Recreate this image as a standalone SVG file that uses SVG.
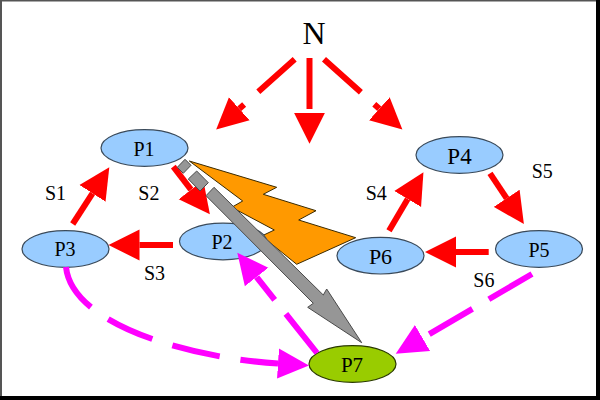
<svg xmlns="http://www.w3.org/2000/svg" width="600" height="400" viewBox="0 0 600 400">
<style>
.n{fill:#99ccff;stroke:#3a4a5a;stroke-width:1.2}
text{font-family:"Liberation Serif","Times New Roman",serif;fill:#000;text-anchor:middle}
.p{font-size:20px}
.s{font-size:20px;text-anchor:start}
.r{fill:none;stroke:#ff0000;stroke-width:6}
.m{fill:none;stroke:#ff00ff;stroke-width:6}
.g{fill:#969696;stroke:#4a4a4a;stroke-width:1}
</style>
<defs>
<marker id="hr" markerUnits="userSpaceOnUse" markerWidth="32" markerHeight="32" refX="0" refY="16" orient="auto"><path d="M0,0.5 L31,16 L0,31.5 Z" fill="#ff0000"/></marker>
<marker id="hm" markerUnits="userSpaceOnUse" markerWidth="32" markerHeight="32" refX="0" refY="16" orient="auto"><path d="M0,1 L31,16 L0,31 Z" fill="#ff00ff"/></marker>
</defs>
<rect width="600" height="400" fill="#ffffff"/>
<path d="M596,0H600V400H0V396H596Z" fill="#000"/>
<path d="M0,0H596V1.5H2V396H0Z" fill="#555"/>

<g id="lightning"><polygon points="189.3,161 276.7,187.3 263.3,194.3 316,210.7 298.7,220 355.7,237.7 296.7,264.3 261.7,236 274.3,230 231.7,207.3 242.7,201" fill="#ff9900" stroke="#3a2a00" stroke-width="1"/></g>

<g id="P1"><ellipse class="n" cx="144.5" cy="148" rx="43.5" ry="18.3"/><text class="p" x="144" y="155.5">P1</text></g>
<g id="P2"><ellipse class="n" cx="223" cy="241.5" rx="43.5" ry="18.3"/><text class="p" x="222" y="249">P2</text></g>
<g id="P3"><ellipse class="n" cx="65.5" cy="249" rx="43.5" ry="18.3"/><text class="p" x="65" y="256">P3</text></g>
<g id="P4"><ellipse class="n" cx="459.5" cy="155" rx="43.5" ry="18.3"/><text class="p" x="459.5" y="164" style="font-size:23px">P4</text></g>
<g id="P5"><ellipse class="n" cx="539" cy="249" rx="43.5" ry="18.3"/><text class="p" x="539" y="256.5">P5</text></g>
<g id="P6"><ellipse class="n" cx="380.5" cy="255.7" rx="43.5" ry="18.3"/><text class="p" x="380.5" y="263.5" style="font-size:22px">P6</text></g>
<g id="P7"><ellipse cx="352.5" cy="364" rx="43.5" ry="18.3" fill="#99cc00" stroke="#2a3a00" stroke-width="1.2"/><text class="p" x="352" y="371.5" style="font-size:21px">P7</text></g>
<g id="N"><text x="314" y="43.5" style="font-size:32px">N</text></g>

<g id="connectors">
<path class="r" d="M294.7,59.3 L239.3,108.8" stroke-dasharray="48.8 19 7" marker-end="url(#hr)"/>
<path class="r" d="M309.5,58 L309.5,112.7" stroke-dasharray="51 4" marker-end="url(#hr)"/>
<path class="r" d="M324,59.3 L379.3,108.8" stroke-dasharray="49.5 18 7" marker-end="url(#hr)"/>
<path class="r" d="M72.7,224 L92.5,193.3" marker-end="url(#hr)"/>
<path class="r" d="M173.3,166.7 L191,189.7" marker-end="url(#hr)"/>
<path class="r" d="M173,245 L139.5,245" marker-end="url(#hr)"/>
<path class="r" d="M389,230.7 L407.7,199" marker-end="url(#hr)"/>
<path class="r" d="M490,173.3 L506.7,198.3" marker-end="url(#hr)"/>
<path class="r" d="M488.7,252 L456,252" marker-end="url(#hr)"/>
<path class="m" d="M66,267 C72,325 190,358 278,363.5" stroke-dasharray="48.5 21" marker-end="url(#hm)"/>
<path class="m" d="M317,353 L256.6,277" stroke-dasharray="50 18 29" marker-end="url(#hm)"/>
<path class="m" d="M532,274 L422.5,338" stroke-dasharray="50 19 50 8" marker-end="url(#hm)"/>
<g id="lightning-arrow">
<polygon class="g" points="177.3,167.3 185,159.3 191,165.3 183.3,173.3"/>
<polygon class="g" points="188.3,179 196.7,171 208.3,182.7 200,191"/>
<polygon class="g" points="206,195.7 214,187.3 323.3,295 326.7,289 361.7,342.7 307.7,307.3 313.3,303.3"/>
</g>
</g>

<g id="labels">
<text class="s" x="45" y="200">S1</text>
<text class="s" x="138.3" y="200">S2</text>
<text class="s" x="144" y="280">S3</text>
<text class="s" x="365.7" y="200">S4</text>
<text class="s" x="531.7" y="178">S5</text>
<text class="s" x="473.3" y="286.7">S6</text>
</g>
</svg>
